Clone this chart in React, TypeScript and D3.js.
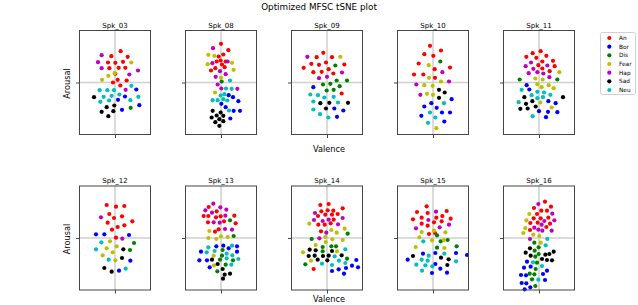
import { useEffect, useRef } from "react";
import { select, scaleLinear, axisLeft, axisBottom } from "d3";

type Pts = Record<string, [number, number][]>;

const emotions = ["An", "Bor", "Dis", "Fear", "Hap", "Sad", "Neu"];
const emotionColors = ["#ff0000", "#0000ff", "#008000", "#bfbf00", "#bf00bf", "#000000", "#00bfbf"];
const speakers = ["Spk_03", "Spk_08", "Spk_09", "Spk_10", "Spk_11", "Spk_12", "Spk_13", "Spk_14", "Spk_15", "Spk_16"];

// tSNE coordinates (arbitrary units, plot range x ±106.5, y ±156)
const spk03: Pts = {
    An: [[17, 94], [-11, 79], [38, 77], [24, 62], [1, 59], [-21, 60], [11, 44], [-17, 43], [31, 44], [1, 26], [8, 8], [35, 6], [-6, 0], [16, -9]],
    Bor: [[64, -21], [30, -42], [9, -52], [21, -82], [73, -68]],
    Dis: [[47, -76]],
    Fear: [[49, 60], [-1, 28], [-20, 20], [-39, 8]],
    Hap: [[-40, 82], [-51, 61], [-40, 43], [69, 36], [43, 24], [32, -22]],
    Sad: [[-63, -44], [-25, -74], [-2, -69], [-40, -88], [-5, -86], [-20, -101]],
    Neu: [[-46, -23], [-23, -23], [-3, -23], [49, -10], [-34, -43], [-10, -40], [13, -36], [70, -43], [-44, -58], [-18, -54], [46, -53]],
};

const spk08: Pts = {
    An: [[0, 116], [22, 97], [7, 84], [-7, 78], [-13, 63], [-1, 66], [14, 63], [3, 54], [-17, 43], [-30, 36], [11, 46]],
    Bor: [[23, -38], [36, -44], [52, -56], [1, -64], [14, -74], [38, -85], [57, -85], [28, -108]],
    Dis: [[2, 3]],
    Fear: [[-38, 83], [-20, 80], [-40, 55], [33, 59], [38, 38], [0, 14], [-18, -30]],
    Hap: [[-24, 103], [-26, 58], [20, 63], [-3, 34], [14, 25], [-16, 17], [-10, -6], [1, -18], [49, -19]],
    Sad: [[-25, -85], [-1, -90], [-13, -99], [7, -100], [-28, -105], [-5, -110], [-17, -119], [7, -116], [-5, -130]],
    Neu: [[27, 6], [15, -18], [32, -19], [10, -35], [-1, -39], [-25, -53], [-10, -53], [7, -50], [19, -54], [24, -84]],
};

const spk09: Pts = {
    An: [[-11, 89], [-31, 76], [15, 76], [-3, 60], [-47, 56], [-24, 53], [52, 54], [-70, 44], [5, 40], [-41, 31], [-16, 32], [19, 27], [44, -33]],
    Bor: [[-41, -14], [22, -78], [49, -84], [30, -103]],
    Dis: [[25, 51], [29, 6], [60, 6], [-12, -6], [10, -4], [38, -11], [-1, -24], [20, -22]],
    Fear: [[40, 77]],
    Hap: [[-59, 77], [45, 30], [-24, 13], [0, 17]],
    Sad: [[-20, -62], [7, -61], [63, -61], [-3, -78]],
    Neu: [[-50, -36], [-27, -38], [-8, -45], [20, -43], [-41, -57], [33, -60], [-41, -81], [-21, -95], [4, -105]],
};

const spk10: Pts = {
    An: [[-9, 110], [24, 96], [-26, 85], [1, 80], [-43, 57], [51, 45], [5, 40], [-57, 24], [-29, 24], [6, 14]],
    Bor: [[56, -50], [-5, -62], [-26, -72], [11, -76], [27, -90], [51, -90], [-35, -100], [34, -117]],
    Dis: [[22, 63]],
    Fear: [[-13, 52], [-12, 14], [24, 3], [-26, -8], [-1, -10], [-18, -34], [0, -37], [10, -137]],
    Hap: [[28, 31], [48, 3], [-50, -6], [-38, -37]],
    Sad: [[18, -22], [35, -30], [18, -46]],
    Neu: [[33, -62], [-9, -90], [7, -105], [-15, -121]],
};

const spk11: Pts = {
    An: [[5, 94], [-19, 88], [22, 80], [-38, 77], [-8, 74], [10, 63], [42, 65], [-2, 52], [47, 49], [10, 42], [32, 34]],
    Bor: [[-37, -8], [-29, -21], [28, -56], [50, -62], [0, -86], [27, -88], [55, -89], [21, -104]],
    Dis: [[-58, 9], [55, 9]],
    Fear: [[61, 31], [-11, 12], [11, 9], [-5, -5], [29, -8], [8, -14], [44, -17], [4, -60], [38, -75]],
    Hap: [[-24, 60], [-40, 49], [25, 51], [-17, 41], [-31, 28], [-5, 31], [13, 27], [31, 16]],
    Sad: [[-44, -44], [72, -44], [-20, -56], [-39, -64], [-10, -72], [-56, -79], [-34, -78]],
    Neu: [[-52, -22], [-5, -28], [15, -30], [34, -37], [-22, -38], [12, -44], [-5, -47], [-61, -59], [-19, -101]],
};

const spk12: Pts = {
    An: [[-25, 99], [3, 94], [28, 96], [-17, 72], [21, 65], [-3, 60], [-22, 46], [52, 50], [28, 38], [8, 33], [-9, 25], [3, 1]],
    Bor: [[-57, 11], [-32, 11], [42, 9], [46, -68], [12, -98]],
    Dis: [[57, -15], [45, -36]],
    Fear: [[-15, -10], [5, -25], [-25, -31], [-7, -43], [-37, -52], [1, -67]],
    Hap: [[-42, 62], [22, -2]],
    Sad: [[25, -34], [21, -60], [-32, -90], [-10, -101]],
    Neu: [[-41, -13], [-57, -34], [-19, -65], [32, -92]],
};

const spk13: Pts = {
    An: [[-37, 93], [-13, 80], [-52, 66], [-38, 66], [-15, 62], [-1, 65], [40, 67], [-39, 47], [9, 50], [44, 44], [-18, 19], [-7, 26]],
    Bor: [[7, -23], [48, -25], [-14, -25], [23, -31], [-60, -41], [48, -41], [-65, -67], [-42, -67], [-34, -88]],
    Dis: [[27, 53], [38, 6], [5, -36], [3, -53], [-3, -65], [36, -67], [14, -80], [-11, -100]],
    Fear: [[-35, 21], [-38, 0], [-14, -3], [0, 5], [20, 3], [-22, -53], [-21, -82]],
    Hap: [[-23, 103], [-2, 92], [16, 85], [-47, 83], [-27, 76], [13, 67], [-22, 47], [-4, 46], [12, 27], [33, 25]],
    Sad: [[-27, -65], [-10, -78], [5, -93], [11, -110], [27, -107], [6, -122]],
    Neu: [[33, -23], [-38, -28], [-43, -43], [-19, -39], [17, -47], [34, -52], [17, -61], [52, -63], [31, -80]],
};

const spk14: Pts = {
    An: [[-20, 99], [5, 102], [-17, 80], [2, 83], [19, 82], [47, 89], [-5, 70], [32, 72], [-27, 66], [15, 70], [20, 55], [-26, 40], [-7, 40], [11, 44], [-18, 20], [-40, -93]],
    Bor: [[88, -66], [75, -83], [93, -88], [15, -99], [35, -94], [57, -90], [51, -107]],
    Dis: [[62, 13], [-46, -3], [-13, -27], [13, -25], [27, -25], [-13, -40], [60, -62], [-65, -79]],
    Fear: [[-53, 43], [13, 24], [53, 28], [29, 16], [-5, 3], [16, -4], [47, -6], [-4, -12], [-34, -21], [30, -40], [-72, -43], [-48, -68]],
    Hap: [[-36, 75], [-39, 54], [-13, 51], [5, 55], [47, 60], [33, 41], [-2, 16], [-23, -1]],
    Sad: [[-52, -35], [-34, -37], [15, -39], [-55, -54], [-37, -53], [-12, -54], [5, -53], [44, -52], [-28, -65], [1, -67]],
    Neu: [[55, -34], [23, -55], [36, -68], [55, -75], [-15, -77], [15, -81]],
};

const spk15: Pts = {
    An: [[-19, 95], [-48, 78], [-16, 75], [41, 81], [28, 66], [10, 61], [-34, 61], [-60, 56], [53, 58], [3, 47], [26, 50], [-34, 43], [-16, 37], [-12, 12], [6, 15]],
    Bor: [[-30, -47], [7, -45], [69, -45], [102, -51], [-76, -65], [7, -78], [22, -92], [-3, -105], [42, -104]],
    Dis: [[12, 8], [44, -6], [23, -10], [71, -25], [12, -29]],
    Fear: [[3, 22], [-34, 18], [37, 17], [-41, 2], [-3, -7], [33, -6], [-52, -27], [34, -30]],
    Hap: [[9, 79], [-14, 54], [48, 40], [-51, 29], [20, 32]],
    Sad: [[-60, -54], [24, -59], [47, -64], [43, -81]],
    Neu: [[-29, -10], [-13, -53], [34, -47], [-34, -65], [-16, -68], [69, -70], [-50, -80], [-23, -82], [-2, -85], [-33, -98]],
};

const spk16: Pts = {
    An: [[18, 109], [36, 94], [-15, 90], [7, 82], [24, 82], [-6, 72], [-16, 59], [5, 59], [28, 61], [-26, 45], [-4, 46], [33, 43], [22, 33], [-27, 24]],
    Bor: [[-36, -71], [-45, -89], [-25, -86], [24, -98], [-54, -111], [-39, -112], [12, -108], [18, -126], [-52, -135], [-38, -136], [-26, -148], [-43, -154]],
    Dis: [[-14, -14], [-1, -28], [-13, -38], [-11, -56], [-1, -48], [-6, -74], [-10, -93], [-28, -107], [-14, -109], [-21, -124], [-11, -144]],
    Fear: [[-29, 72], [-38, 53], [-41, 30], [-47, 15], [-17, 10], [1, 6], [5, -14]],
    Hap: [[-2, 102], [40, 73], [16, 51], [46, 53], [8, 40], [-14, 31], [-2, 25], [10, 22], [38, 22], [-27, -3]],
    Sad: [[-27, -31], [-40, -44], [-25, -53], [19, -50], [31, -48], [44, -41], [9, -63], [24, -66], [39, -67]],
    Neu: [[25, -3], [20, -22], [-18, -73], [9, -84], [-2, -125]],
};

const panels = [spk03, spk08, spk09, spk10, spk11, spk12, spk13, spk14, spk15, spk16];

export default function App() {
    const svgRef = useRef<SVGSVGElement>(null);

    useEffect(() => {
        document.body.style.margin = "0";
        const svg = select(svgRef.current);
        svg.selectAll("*").remove();
        const font = "DejaVu Sans, sans-serif";

        const pw = 71;
        const ph = 104;
        const lefts = [79.5, 185.5, 291.5, 397.5, 503.5];
        const tops = [30.5, 186];
        const xlabelY = [152, 301.5];

        // figure title
        svg.append("text")
            .attr("x", 319).attr("y", 10)
            .attr("text-anchor", "middle")
            .attr("font-family", font).attr("font-size", 8.8)
            .text("Optimized MFSC tSNE plot");

        panels.forEach((data, i) => {
            const row = Math.floor(i / 5);
            const left = lefts[i % 5];
            const top = tops[row];
            const x = scaleLinear().domain([-106.5, 106.5]).range([left, left + pw]);
            const y = scaleLinear().domain([-156, 156]).range([top + ph, top]);
            const g = svg.append("g");

            // crosshair through the origin
            g.append("line")
                .attr("x1", x(0)).attr("x2", x(0)).attr("y1", top).attr("y2", top + ph)
                .attr("stroke", "#cfcfcf").attr("stroke-width", 1.5);
            g.append("line")
                .attr("x1", left).attr("x2", left + pw).attr("y1", y(0)).attr("y2", y(0))
                .attr("stroke", "#cfcfcf").attr("stroke-width", 1.5);

            emotions.forEach((emo, k) => {
                g.selectAll(null)
                    .data(data[emo] || [])
                    .enter()
                    .append("circle")
                    .attr("cx", (d) => x(d[0]))
                    .attr("cy", (d) => y(d[1]))
                    .attr("r", 2.1)
                    .attr("fill", emotionColors[k]);
            });

            // spines
            g.append("rect")
                .attr("x", left).attr("y", top).attr("width", pw).attr("height", ph)
                .attr("fill", "none").attr("stroke", "#444").attr("stroke-width", 1);

            // single ticks at zero, no labels
            const ax = g.append("g")
                .attr("transform", `translate(${left},0)`)
                .call(axisLeft(y).tickValues([0]).tickSize(3.5).tickFormat(() => ""));
            const bx = g.append("g")
                .attr("transform", `translate(0,${top + ph})`)
                .call(axisBottom(x).tickValues([0]).tickSize(3.5).tickFormat(() => ""));
            [ax, bx].forEach((a) => {
                a.select(".domain").remove();
                a.selectAll("line").attr("stroke", "#444");
            });

            g.append("text")
                .attr("x", left + pw / 2).attr("y", top - 3)
                .attr("text-anchor", "middle")
                .attr("font-family", font).attr("font-size", 7)
                .text(speakers[i]);
        });

        // axis labels for each row
        tops.forEach((top, r) => {
            svg.append("text")
                .attr("transform", `translate(70,${top + ph / 2 + 1}) rotate(-90)`)
                .attr("text-anchor", "middle")
                .attr("font-family", font).attr("font-size", 8.2)
                .text("Arousal");
            svg.append("text")
                .attr("x", 329).attr("y", xlabelY[r])
                .attr("text-anchor", "middle")
                .attr("font-family", font).attr("font-size", 8.2)
                .text("Valence");
        });

        // legend
        const lg = svg.append("g");
        lg.append("rect")
            .attr("x", 600.5).attr("y", 32.5).attr("width", 35).attr("height", 62)
            .attr("rx", 2).attr("fill", "white").attr("stroke", "#d0d0d0");
        emotions.forEach((emo, k) => {
            const yy = 38 + k * 8.67;
            lg.append("circle").attr("cx", 609.3).attr("cy", yy).attr("r", 2.1).attr("fill", emotionColors[k]);
            lg.append("text")
                .attr("x", 619).attr("y", yy + 2)
                .attr("font-family", font).attr("font-size", 5.8)
                .text(emo);
        });
    }, []);

    return <svg ref={svgRef} width={638} height={305} style={{ display: "block" }} />;
}
